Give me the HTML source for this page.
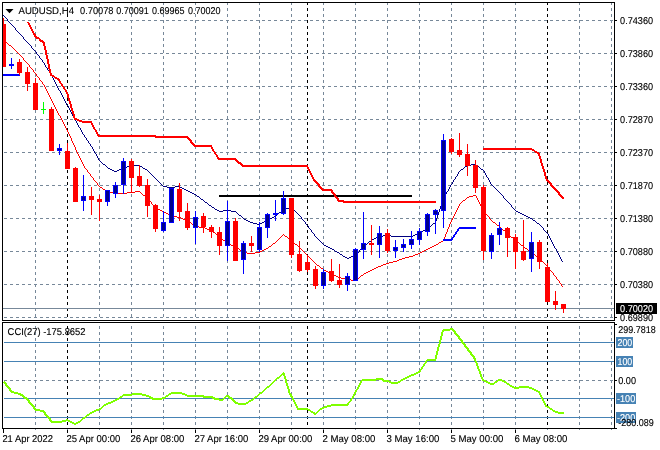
<!DOCTYPE html>
<html lang="en"><head><meta charset="utf-8"><title>AUDUSD,H4</title>
<style>html,body{margin:0;padding:0;background:#fff;overflow:hidden}svg{display:block}text{font-family:"Liberation Sans",sans-serif;font-size:9.9px;stroke-width:0.12px;text-rendering:geometricPrecision}</style>
</head><body>
<svg width="660" height="450" viewBox="0 0 660 450">
<rect width="660" height="450" fill="#fff"/>
<g stroke="#778899" stroke-width="1" stroke-dasharray="3 3" shape-rendering="crispEdges" fill="none">
<path d="M35.5 2V320M35.5 326V428"/>
<path d="M99.5 2V320M99.5 326V428"/>
<path d="M131.5 2V320M131.5 326V428"/>
<path d="M163.5 2V320M163.5 326V428"/>
<path d="M195.5 2V320M195.5 326V428"/>
<path d="M227.5 2V320M227.5 326V428"/>
<path d="M259.5 2V320M259.5 326V428"/>
<path d="M291.5 2V320M291.5 326V428"/>
<path d="M323.5 2V320M323.5 326V428"/>
<path d="M355.5 2V320M355.5 326V428"/>
<path d="M387.5 2V320M387.5 326V428"/>
<path d="M419.5 2V320M419.5 326V428"/>
<path d="M451.5 2V320M451.5 326V428"/>
<path d="M483.5 2V320M483.5 326V428"/>
<path d="M515.5 2V320M515.5 326V428"/>
<path d="M579.5 2V320M579.5 326V428"/>
<path d="M611.5 2V320M611.5 326V428"/>
<path d="M4 20.5H614"/>
<path d="M4 53.5H614"/>
<path d="M4 86.5H614"/>
<path d="M4 119.5H614"/>
<path d="M4 152.5H614"/>
<path d="M4 185.5H614"/>
<path d="M4 218.5H614"/>
<path d="M4 251.5H614"/>
<path d="M4 284.5H614"/>
<path d="M4 317.5H614"/>
<path d="M4 380.5H614"/>
</g>
<g stroke="#000" stroke-width="1" stroke-dasharray="3 3" shape-rendering="crispEdges" fill="none">
<path d="M67.5 2V320M67.5 326V428"/>
<path d="M307.5 2V320M307.5 326V428"/>
<path d="M547.5 2V320M547.5 326V428"/>
</g>
<g stroke="#4682b4" stroke-width="1" shape-rendering="crispEdges">
<path d="M4 342.5H614"/>
<path d="M4 361.5H614"/>
<path d="M4 398.5H614"/>
<path d="M4 417.5H614"/>
</g>
<path d="M3 308.5H614" stroke="#778899" stroke-width="1" shape-rendering="crispEdges"/>
<clipPath id="cm"><rect x="3" y="3" width="611" height="317"/></clipPath>
<clipPath id="cs"><rect x="3" y="323" width="611" height="105"/></clipPath>
<g clip-path="url(#cm)" shape-rendering="crispEdges">
<rect x="219" y="195" width="193" height="2" fill="#000" shape-rendering="crispEdges"/>
<path d="M3 15h1v1h-1zM4 16h1v1h-1zM5 17h1v1h-1zM6 18h1v1h-1zM7 19h1v2h-1zM8 21h1v1h-1zM9 22h1v1h-1zM10 23h1v1h-1zM11 24h1v1h-1zM12 25h1v1h-1zM13 26h1v1h-1zM14 27h1v1h-1zM15 28h1v2h-1zM16 30h1v1h-1zM17 31h1v1h-1zM18 32h1v1h-1zM19 33h1v1h-1zM20 34h1v1h-1zM21 35h1v1h-1zM22 36h1v1h-1zM23 37h1v2h-1zM24 39h1v1h-1zM25 40h1v1h-1zM26 41h1v1h-1zM27 42h1v1h-1zM28 43h1v1h-1zM29 44h1v1h-1zM30 45h1v1h-1zM31 46h1v2h-1zM32 48h1v1h-1zM33 49h1v1h-1zM34 50h1v1h-1zM35 51h1v1h-1zM36 52h1v2h-1zM37 54h1v1h-1zM38 55h1v1h-1zM39 56h1v2h-1zM40 58h1v1h-1zM41 59h1v1h-1zM42 60h1v2h-1zM43 62h1v1h-1zM44 63h1v2h-1zM45 65h1v2h-1zM46 67h1v1h-1zM47 68h1v2h-1zM48 70h1v1h-1zM49 71h1v2h-1zM50 73h1v2h-1zM51 75h1v1h-1zM52 76h1v2h-1zM53 78h1v2h-1zM54 80h1v2h-1zM55 82h1v2h-1zM56 84h1v2h-1zM57 86h1v2h-1zM58 88h1v2h-1zM59 90h1v1h-1zM60 91h1v2h-1zM61 93h1v2h-1zM62 95h1v2h-1zM63 97h1v2h-1zM64 99h1v2h-1zM65 101h1v2h-1zM66 103h1v2h-1zM67 105h1v1h-1zM68 106h1v2h-1zM69 108h1v2h-1zM70 110h1v2h-1zM71 112h1v2h-1zM72 114h1v2h-1zM73 116h1v2h-1zM74 118h1v2h-1zM75 120h1v1h-1zM76 121h1v2h-1zM77 123h1v2h-1zM78 125h1v2h-1zM79 127h1v1h-1zM80 128h1v2h-1zM81 130h1v2h-1zM82 132h1v2h-1zM83 134h1v1h-1zM84 135h1v2h-1zM85 137h1v1h-1zM86 138h1v2h-1zM87 140h1v1h-1zM88 141h1v2h-1zM89 143h1v1h-1zM90 144h1v2h-1zM91 146h1v1h-1zM92 147h1v2h-1zM93 149h1v2h-1zM94 151h1v2h-1zM95 153h1v1h-1zM96 154h1v2h-1zM97 156h1v2h-1zM98 158h1v2h-1zM99 160h1v1h-1zM100 161h1v1h-1zM101 162h1v1h-1zM102 163h1v1h-1zM103 164h2v1h-2zM105 165h1v1h-1zM106 166h1v1h-1zM107 167h1v1h-1zM108 168h2v1h-2zM110 169h2v1h-2zM112 170h2v1h-2zM114 171h3v1h-3zM117 170h2v1h-2zM119 169h3v1h-3zM122 168h3v1h-3zM125 167h2v1h-2zM127 166h3v1h-3zM130 165h10v1h-10zM140 166h2v1h-2zM142 167h1v1h-1zM143 168h2v1h-2zM145 169h2v1h-2zM147 170h1v1h-1zM148 171h1v1h-1zM149 172h1v1h-1zM150 173h1v1h-1zM151 174h1v1h-1zM152 175h1v1h-1zM153 176h1v1h-1zM154 177h1v1h-1zM155 178h1v1h-1zM156 179h1v1h-1zM157 180h1v1h-1zM158 181h1v1h-1zM159 182h1v1h-1zM160 183h1v1h-1zM161 184h1v1h-1zM162 185h1v1h-1zM163 186h4v1h-4zM167 187h8v1h-8zM175 186h5v1h-5zM180 187h2v1h-2zM182 188h2v1h-2zM184 189h2v1h-2zM186 190h2v1h-2zM188 191h2v1h-2zM190 192h2v1h-2zM192 193h2v1h-2zM194 194h2v1h-2zM196 195h1v1h-1zM197 196h2v1h-2zM199 197h1v1h-1zM200 198h1v1h-1zM201 199h2v1h-2zM203 200h1v1h-1zM204 201h1v1h-1zM205 202h2v1h-2zM207 203h1v1h-1zM208 204h1v1h-1zM209 205h2v1h-2zM211 206h1v1h-1zM212 207h2v1h-2zM214 208h1v1h-1zM215 209h2v1h-2zM217 210h2v1h-2zM219 211h4v1h-4zM223 210h8v1h-8zM231 211h5v1h-5zM236 212h1v1h-1zM237 213h1v1h-1zM238 214h1v1h-1zM239 215h2v1h-2zM241 216h1v1h-1zM242 217h1v1h-1zM243 218h1v1h-1zM244 219h2v1h-2zM246 220h2v1h-2zM248 221h2v1h-2zM250 222h3v1h-3zM253 223h4v1h-4zM257 224h3v1h-3zM260 223h2v1h-2zM262 222h2v1h-2zM264 221h2v1h-2zM266 220h2v1h-2zM268 219h2v1h-2zM270 218h2v1h-2zM272 217h2v1h-2zM274 216h2v1h-2zM276 215h1v1h-1zM277 214h1v1h-1zM278 213h1v1h-1zM279 212h2v1h-2zM281 211h1v1h-1zM282 210h1v1h-1zM283 209h2v1h-2zM285 208h4v1h-4zM289 207h3v1h-3zM292 208h1v1h-1zM293 209h1v1h-1zM294 210h1v1h-1zM295 211h1v1h-1zM296 212h1v1h-1zM297 213h1v1h-1zM298 214h1v1h-1zM299 215h1v1h-1zM300 216h1v1h-1zM301 217h1v2h-1zM302 219h1v1h-1zM303 220h1v1h-1zM304 221h1v1h-1zM305 222h1v2h-1zM306 224h1v1h-1zM307 225h1v1h-1zM308 226h1v2h-1zM309 228h1v1h-1zM310 229h1v1h-1zM311 230h1v2h-1zM312 232h1v1h-1zM313 233h1v1h-1zM314 234h1v2h-1zM315 236h1v1h-1zM316 237h1v1h-1zM317 238h1v1h-1zM318 239h1v1h-1zM319 240h1v1h-1zM320 241h1v1h-1zM321 242h1v1h-1zM322 243h1v1h-1zM323 244h1v1h-1zM324 245h2v1h-2zM326 246h2v1h-2zM328 247h2v1h-2zM330 248h2v1h-2zM332 249h2v1h-2zM334 250h1v1h-1zM335 251h2v1h-2zM337 252h2v1h-2zM339 253h1v1h-1zM340 254h2v1h-2zM342 255h1v1h-1zM343 256h2v1h-2zM345 257h2v1h-2zM347 258h2v1h-2zM349 257h2v1h-2zM351 256h3v1h-3zM354 255h2v1h-2zM356 254h1v1h-1zM357 253h1v1h-1zM358 252h1v1h-1zM359 250h1v2h-1zM360 249h1v1h-1zM361 248h1v1h-1zM362 247h1v1h-1zM363 246h1v1h-1zM364 245h1v1h-1zM365 244h2v1h-2zM367 243h1v1h-1zM368 242h1v1h-1zM369 241h2v1h-2zM371 240h1v1h-1zM372 239h2v1h-2zM374 238h2v1h-2zM376 237h2v1h-2zM378 236h5v1h-5zM383 235h8v1h-8zM391 236h22v1h-22zM413 235h2v1h-2zM415 234h3v1h-3zM418 233h2v1h-2zM420 232h2v1h-2zM422 231h1v1h-1zM423 230h2v1h-2zM425 229h2v1h-2zM427 228h1v1h-1zM428 227h1v1h-1zM429 226h2v1h-2zM431 225h1v1h-1zM432 224h1v1h-1zM433 223h2v1h-2zM435 221h1v2h-1zM436 218h1v3h-1zM437 215h1v3h-1zM438 212h1v3h-1zM439 209h1v3h-1zM440 206h1v3h-1zM441 203h1v3h-1zM442 200h1v3h-1zM443 198h1v2h-1zM444 196h1v2h-1zM445 194h1v2h-1zM446 192h1v2h-1zM447 191h1v1h-1zM448 189h1v2h-1zM449 187h1v2h-1zM450 185h1v2h-1zM451 184h1v1h-1zM452 182h1v2h-1zM453 180h1v2h-1zM454 179h1v1h-1zM455 177h1v2h-1zM456 176h1v1h-1zM457 174h1v2h-1zM458 172h1v2h-1zM459 171h1v1h-1zM460 170h1v1h-1zM461 169h2v1h-2zM463 168h1v1h-1zM464 167h1v1h-1zM465 166h2v1h-2zM467 165h4v1h-4zM471 164h5v1h-5zM476 165h1v1h-1zM477 166h2v1h-2zM479 167h1v1h-1zM480 168h1v1h-1zM481 169h2v1h-2zM483 170h1v1h-1zM484 171h1v2h-1zM485 173h1v2h-1zM486 175h1v2h-1zM487 177h1v1h-1zM488 178h1v2h-1zM489 180h1v2h-1zM490 182h1v2h-1zM491 184h1v1h-1zM492 185h1v1h-1zM493 186h1v1h-1zM494 187h1v1h-1zM495 188h1v1h-1zM496 189h1v1h-1zM497 190h1v1h-1zM498 191h1v1h-1zM499 192h1v1h-1zM500 193h1v1h-1zM501 194h1v1h-1zM502 195h1v1h-1zM503 196h1v2h-1zM504 198h1v1h-1zM505 199h1v1h-1zM506 200h1v1h-1zM507 201h1v1h-1zM508 202h1v1h-1zM509 203h1v1h-1zM510 204h1v1h-1zM511 205h1v2h-1zM512 207h1v1h-1zM513 208h1v1h-1zM514 209h1v1h-1zM515 210h1v1h-1zM516 211h2v1h-2zM518 212h2v1h-2zM520 213h2v1h-2zM522 214h2v1h-2zM524 215h2v1h-2zM526 216h2v1h-2zM528 217h2v1h-2zM530 218h2v1h-2zM532 219h1v1h-1zM533 220h2v1h-2zM535 221h1v1h-1zM536 222h1v1h-1zM537 223h2v1h-2zM539 224h1v1h-1zM540 225h1v1h-1zM541 226h1v1h-1zM542 227h1v1h-1zM543 228h1v2h-1zM544 230h1v1h-1zM545 231h1v1h-1zM546 232h1v1h-1zM547 233h1v1h-1zM548 234h1v2h-1zM549 236h1v2h-1zM550 238h1v2h-1zM551 240h1v2h-1zM552 242h1v2h-1zM553 244h1v2h-1zM554 246h1v2h-1zM555 248h1v1h-1zM556 249h1v2h-1zM557 251h1v2h-1zM558 253h1v2h-1zM559 255h1v2h-1zM560 257h1v2h-1zM561 259h1v2h-1zM562 261h1v1h-1z" fill="#000080"/>
<path d="M3 40h1v1h-1zM4 41h1v1h-1zM5 42h2v1h-2zM7 43h1v1h-1zM8 44h1v1h-1zM9 45h2v1h-2zM11 46h1v1h-1zM12 47h1v1h-1zM13 48h1v1h-1zM14 49h1v1h-1zM15 50h1v1h-1zM16 51h1v1h-1zM17 52h1v1h-1zM18 53h1v1h-1zM19 54h1v1h-1zM20 55h1v1h-1zM21 56h1v1h-1zM22 57h1v1h-1zM23 58h1v2h-1zM24 60h1v1h-1zM25 61h1v1h-1zM26 62h1v1h-1zM27 63h1v1h-1zM28 64h1v1h-1zM29 65h1v2h-1zM30 67h1v1h-1zM31 68h1v1h-1zM32 69h1v1h-1zM33 70h1v2h-1zM34 72h1v1h-1zM35 73h1v1h-1zM36 74h1v2h-1zM37 76h1v1h-1zM38 77h1v1h-1zM39 78h1v2h-1zM40 80h1v1h-1zM41 81h1v1h-1zM42 82h1v2h-1zM43 84h1v1h-1zM44 85h1v2h-1zM45 87h1v2h-1zM46 89h1v2h-1zM47 91h1v2h-1zM48 93h1v2h-1zM49 95h1v2h-1zM50 97h1v2h-1zM51 99h1v2h-1zM52 101h1v2h-1zM53 103h1v2h-1zM54 105h1v2h-1zM55 107h1v2h-1zM56 109h1v2h-1zM57 111h1v2h-1zM58 113h1v2h-1zM59 115h1v1h-1zM60 116h1v2h-1zM61 118h1v2h-1zM62 120h1v2h-1zM63 122h1v2h-1zM64 124h1v2h-1zM65 126h1v2h-1zM66 128h1v2h-1zM67 130h1v2h-1zM68 132h1v2h-1zM69 134h1v2h-1zM70 136h1v2h-1zM71 138h1v3h-1zM72 141h1v2h-1zM73 143h1v2h-1zM74 145h1v2h-1zM75 147h1v3h-1zM76 150h1v2h-1zM77 152h1v2h-1zM78 154h1v2h-1zM79 156h1v2h-1zM80 158h1v2h-1zM81 160h1v2h-1zM82 162h1v2h-1zM83 164h1v2h-1zM84 166h1v2h-1zM85 168h1v1h-1zM86 169h1v1h-1zM87 170h1v2h-1zM88 172h1v1h-1zM89 173h1v1h-1zM90 174h1v2h-1zM91 176h1v1h-1zM92 177h1v1h-1zM93 178h1v2h-1zM94 180h1v1h-1zM95 181h1v1h-1zM96 182h1v1h-1zM97 183h1v2h-1zM98 185h1v1h-1zM99 186h1v1h-1zM100 187h2v1h-2zM102 188h1v1h-1zM103 189h2v1h-2zM105 190h2v1h-2zM107 191h2v1h-2zM109 192h4v1h-4zM113 193h14v1h-14zM127 192h8v1h-8zM135 191h5v1h-5zM140 192h1v1h-1zM141 193h1v1h-1zM142 194h1v1h-1zM143 195h2v1h-2zM145 196h1v1h-1zM146 197h1v1h-1zM147 198h1v1h-1zM148 199h1v1h-1zM149 200h1v1h-1zM150 201h1v1h-1zM151 202h1v2h-1zM152 204h1v1h-1zM153 205h1v1h-1zM154 206h1v1h-1zM155 207h1v1h-1zM156 208h2v1h-2zM158 209h2v1h-2zM160 210h2v1h-2zM162 211h2v1h-2zM164 212h2v1h-2zM166 213h2v1h-2zM168 214h2v1h-2zM170 215h3v1h-3zM173 216h4v1h-4zM177 217h4v1h-4zM181 218h2v1h-2zM183 219h3v1h-3zM186 220h2v1h-2zM188 221h1v1h-1zM189 222h2v1h-2zM191 223h1v1h-1zM192 224h1v1h-1zM193 225h2v1h-2zM195 226h4v1h-4zM199 227h6v1h-6zM205 228h2v1h-2zM207 229h3v1h-3zM210 230h2v1h-2zM212 231h1v1h-1zM213 232h2v1h-2zM215 233h1v1h-1zM216 234h1v1h-1zM217 235h2v1h-2zM219 236h1v1h-1zM220 237h1v1h-1zM221 238h1v1h-1zM222 239h1v1h-1zM223 240h2v1h-2zM225 241h1v1h-1zM226 242h1v1h-1zM227 243h2v1h-2zM229 244h2v1h-2zM231 245h3v1h-3zM234 246h2v1h-2zM236 247h1v1h-1zM237 248h2v1h-2zM239 249h1v1h-1zM240 250h1v1h-1zM241 251h2v1h-2zM243 252h4v1h-4zM247 253h8v1h-8zM255 252h5v1h-5zM260 251h2v1h-2zM262 250h2v1h-2zM264 249h2v1h-2zM266 248h2v1h-2zM268 247h1v1h-1zM269 246h2v1h-2zM271 245h1v1h-1zM272 244h1v1h-1zM273 243h2v1h-2zM275 242h1v1h-1zM276 241h1v1h-1zM277 240h1v1h-1zM278 239h1v1h-1zM279 238h1v1h-1zM280 237h1v1h-1zM281 236h1v1h-1zM282 235h1v1h-1zM283 234h1v1h-1zM284 235h1v1h-1zM285 236h2v1h-2zM287 237h1v1h-1zM288 238h1v1h-1zM289 239h2v1h-2zM291 240h1v1h-1zM292 241h1v1h-1zM293 242h1v1h-1zM294 243h1v1h-1zM295 244h2v1h-2zM297 245h1v1h-1zM298 246h1v1h-1zM299 247h1v1h-1zM300 248h1v1h-1zM301 249h1v1h-1zM302 250h1v1h-1zM303 251h1v1h-1zM304 252h1v1h-1zM305 253h1v1h-1zM306 254h1v1h-1zM307 255h1v1h-1zM308 256h1v1h-1zM309 257h1v1h-1zM310 258h1v1h-1zM311 259h1v1h-1zM312 260h1v1h-1zM313 261h1v1h-1zM314 262h1v1h-1zM315 263h1v1h-1zM316 264h1v1h-1zM317 265h2v1h-2zM319 266h1v1h-1zM320 267h1v1h-1zM321 268h2v1h-2zM323 269h1v1h-1zM324 270h2v1h-2zM326 271h2v1h-2zM328 272h2v1h-2zM330 273h2v1h-2zM332 274h2v1h-2zM334 275h2v1h-2zM336 276h2v1h-2zM338 277h3v1h-3zM341 278h4v1h-4zM345 279h6v1h-6zM351 280h5v1h-5zM356 279h1v1h-1zM357 278h2v1h-2zM359 277h1v1h-1zM360 276h1v1h-1zM361 275h2v1h-2zM363 274h1v1h-1zM364 273h2v1h-2zM366 272h2v1h-2zM368 271h2v1h-2zM370 270h2v1h-2zM372 269h2v1h-2zM374 268h2v1h-2zM376 267h2v1h-2zM378 266h3v1h-3zM381 265h2v1h-2zM383 264h3v1h-3zM386 263h3v1h-3zM389 262h4v1h-4zM393 261h4v1h-4zM397 260h2v1h-2zM399 259h3v1h-3zM402 258h3v1h-3zM405 257h4v1h-4zM409 256h4v1h-4zM413 255h2v1h-2zM415 254h3v1h-3zM418 253h2v1h-2zM420 252h2v1h-2zM422 251h2v1h-2zM424 250h2v1h-2zM426 249h2v1h-2zM428 248h2v1h-2zM430 247h2v1h-2zM432 246h2v1h-2zM434 245h2v1h-2zM436 244h2v1h-2zM438 243h1v1h-1zM439 242h2v1h-2zM441 241h2v1h-2zM443 239h1v2h-1zM444 237h1v2h-1zM445 234h1v3h-1zM446 232h1v2h-1zM447 229h1v3h-1zM448 227h1v2h-1zM449 224h1v3h-1zM450 222h1v2h-1zM451 220h1v2h-1zM452 218h1v2h-1zM453 216h1v2h-1zM454 214h1v2h-1zM455 212h1v2h-1zM456 210h1v2h-1zM457 208h1v2h-1zM458 206h1v2h-1zM459 204h1v2h-1zM460 203h1v1h-1zM461 202h1v1h-1zM462 201h1v1h-1zM463 200h2v1h-2zM465 199h1v1h-1zM466 198h1v1h-1zM467 197h2v1h-2zM469 196h4v1h-4zM473 195h3v1h-3zM476 196h1v2h-1zM477 198h1v2h-1zM478 200h1v2h-1zM479 202h1v2h-1zM480 204h1v2h-1zM481 206h1v2h-1zM482 208h1v2h-1zM483 210h1v1h-1zM484 211h1v1h-1zM485 212h1v2h-1zM486 214h1v1h-1zM487 215h1v1h-1zM488 216h1v1h-1zM489 217h1v2h-1zM490 219h1v1h-1zM491 220h1v1h-1zM492 221h1v1h-1zM493 222h2v1h-2zM495 223h1v1h-1zM496 224h1v1h-1zM497 225h2v1h-2zM499 226h1v1h-1zM500 227h1v1h-1zM501 228h1v1h-1zM502 229h1v1h-1zM503 230h2v1h-2zM505 231h1v1h-1zM506 232h1v1h-1zM507 233h1v1h-1zM508 234h1v1h-1zM509 235h1v1h-1zM510 236h1v1h-1zM511 237h2v1h-2zM513 238h1v1h-1zM514 239h1v1h-1zM515 240h1v1h-1zM516 241h1v1h-1zM517 242h2v1h-2zM519 243h1v1h-1zM520 244h1v1h-1zM521 245h2v1h-2zM523 246h1v1h-1zM524 247h1v1h-1zM525 248h2v1h-2zM527 249h1v1h-1zM528 250h1v1h-1zM529 251h2v1h-2zM531 252h1v1h-1zM532 253h1v1h-1zM533 254h2v1h-2zM535 255h1v1h-1zM536 256h1v1h-1zM537 257h2v1h-2zM539 258h1v1h-1zM540 259h1v1h-1zM541 260h1v1h-1zM542 261h1v1h-1zM543 262h1v1h-1zM544 263h1v1h-1zM545 264h1v1h-1zM546 265h1v1h-1zM547 266h1v1h-1zM548 267h1v1h-1zM549 268h1v2h-1zM550 270h1v1h-1zM551 271h1v1h-1zM552 272h1v1h-1zM553 273h1v2h-1zM554 275h1v1h-1zM555 276h1v1h-1zM556 277h1v2h-1zM557 279h1v1h-1zM558 280h1v1h-1zM559 281h1v2h-1zM560 283h1v1h-1zM561 284h1v2h-1zM562 286h1v1h-1z" fill="#ff0000"/>
<path d="M27 22h2v1h-2zM28 23h2v2h-2zM29 25h2v2h-2zM30 27h2v2h-2zM31 29h2v2h-2zM32 31h2v2h-2zM33 33h2v1h-2zM33 34h3v1h-3zM34 35h2v1h-2zM34 36h3v1h-3zM35 37h4v1h-4zM36 38h4v1h-4zM39 39h2v1h-2zM39 40h4v1h-4zM40 41h4v1h-4zM42 42h3v1h-3zM43 43h2v3h-2zM44 46h2v4h-2zM45 50h2v5h-2zM46 55h2v4h-2zM47 59h2v5h-2zM48 64h2v5h-2zM49 69h2v4h-2zM50 73h2v2h-2zM50 75h4v1h-4zM52 76h3v1h-3zM54 77h3v1h-3zM55 78h4v1h-4zM57 79h3v1h-3zM58 80h2v1h-2zM59 81h2v2h-2zM60 83h2v1h-2zM61 84h2v2h-2zM62 86h2v1h-2zM63 87h2v2h-2zM64 89h2v1h-2zM65 90h2v2h-2zM66 92h2v2h-2zM67 94h2v4h-2zM68 98h2v3h-2zM69 101h2v3h-2zM70 104h2v4h-2zM71 108h2v3h-2zM72 111h2v3h-2zM73 114h2v4h-2zM74 118h3v1h-3zM74 119h5v1h-5zM77 120h5v1h-5zM79 121h13v1h-13zM82 122h10v1h-10zM91 123h2v2h-2zM92 125h2v2h-2zM93 127h2v2h-2zM94 129h2v1h-2zM95 130h2v2h-2zM96 132h2v2h-2zM97 134h2v1h-2zM97 135h59v1h-59zM98 136h90v1h-90zM155 137h34v1h-34zM187 138h3v1h-3zM188 139h3v1h-3zM189 140h3v1h-3zM190 141h2v1h-2zM190 142h3v1h-3zM191 143h3v1h-3zM192 144h3v1h-3zM193 145h19v1h-19zM194 146h18v1h-18zM211 147h2v2h-2zM212 149h2v2h-2zM213 151h2v1h-2zM214 152h2v2h-2zM215 154h2v1h-2zM216 155h2v2h-2zM217 157h2v1h-2zM217 158h19v1h-19zM218 159h19v1h-19zM235 160h3v1h-3zM236 161h3v1h-3zM237 162h4v1h-4zM238 163h4v1h-4zM240 164h3v1h-3zM241 165h67v1h-67zM242 166h66v1h-66zM307 167h2v2h-2zM308 169h2v2h-2zM309 171h2v2h-2zM310 173h2v2h-2zM311 175h2v2h-2zM312 177h2v2h-2zM313 179h2v1h-2zM313 180h3v1h-3zM314 181h3v1h-3zM315 182h3v1h-3zM316 183h3v1h-3zM317 184h3v1h-3zM318 185h2v1h-2zM318 186h3v1h-3zM319 187h3v1h-3zM320 188h3v1h-3zM321 189h11v1h-11zM322 190h11v1h-11zM331 191h2v1h-2zM331 192h3v1h-3zM332 193h3v1h-3zM333 194h3v1h-3zM334 195h2v1h-2zM334 196h3v1h-3zM335 197h3v1h-3zM336 198h3v1h-3zM337 199h2v1h-2zM337 200h7v1h-7zM338 201h98v1h-98zM343 202h93v1h-93z" fill="#ff0000"/>
<path d="M483 148h49v1h-49zM483 149h51v1h-51zM532 150h3v1h-3zM534 151h3v1h-3zM535 152h4v1h-4zM537 153h3v1h-3zM538 154h2v2h-2zM539 156h2v3h-2zM540 159h2v4h-2zM541 163h2v3h-2zM542 166h2v3h-2zM543 169h2v3h-2zM544 172h2v4h-2zM545 176h2v3h-2zM546 179h2v1h-2zM546 180h3v1h-3zM547 181h3v1h-3zM548 182h3v1h-3zM549 183h3v1h-3zM550 184h2v1h-2zM550 185h3v1h-3zM551 186h3v1h-3zM552 187h3v1h-3zM553 188h3v1h-3zM554 189h3v1h-3zM555 190h3v1h-3zM556 191h3v1h-3zM557 192h3v1h-3zM558 193h2v1h-2zM558 194h3v1h-3zM559 195h3v1h-3zM560 196h3v1h-3zM561 197h3v1h-3zM562 198h2v1h-2z" fill="#ff0000"/>
<path d="M3 74h17v2h-17z" fill="#0000ff"/>
<path d="M443 240h9v1h-9zM443 239h10v1h-10zM451 238h2v1h-2zM452 237h2v1h-2zM453 235h2v2h-2zM454 234h2v1h-2zM455 232h2v2h-2zM456 231h2v1h-2zM457 229h2v2h-2zM458 228h18v1h-18zM459 227h17v1h-17z" fill="#0000ff"/>
<g shape-rendering="crispEdges">
<rect x="3" y="18" width="1" height="49" fill="#ff0000"/>
<rect x="1" y="24" width="5" height="43" fill="#ff0000"/>
<rect x="11" y="58" width="1" height="11" fill="#0000ff"/>
<rect x="9" y="64" width="5" height="2" fill="#0000ff"/>
<rect x="19" y="59" width="1" height="16" fill="#ff0000"/>
<rect x="17" y="62" width="5" height="11" fill="#ff0000"/>
<rect x="27" y="67" width="1" height="24" fill="#ff0000"/>
<rect x="25" y="72" width="5" height="12" fill="#ff0000"/>
<rect x="35" y="78" width="1" height="32" fill="#ff0000"/>
<rect x="33" y="83" width="5" height="27" fill="#ff0000"/>
<rect x="43" y="102" width="1" height="12" fill="#00ff00"/>
<rect x="41" y="109" width="5" height="1" fill="#00ff00"/>
<rect x="51" y="107" width="1" height="44" fill="#ff0000"/>
<rect x="49" y="109" width="5" height="42" fill="#ff0000"/>
<rect x="59" y="144" width="1" height="11" fill="#0000ff"/>
<rect x="57" y="148" width="5" height="3" fill="#0000ff"/>
<rect x="58" y="149" width="3" height="1" fill="#00008b"/>
<rect x="67" y="143" width="1" height="26" fill="#ff0000"/>
<rect x="65" y="151" width="5" height="18" fill="#ff0000"/>
<rect x="75" y="167" width="1" height="35" fill="#ff0000"/>
<rect x="73" y="168" width="5" height="34" fill="#ff0000"/>
<rect x="83" y="175" width="1" height="36" fill="#0000ff"/>
<rect x="81" y="196" width="5" height="5" fill="#0000ff"/>
<rect x="82" y="197" width="3" height="3" fill="#00008b"/>
<rect x="91" y="187" width="1" height="28" fill="#ff0000"/>
<rect x="89" y="196" width="5" height="4" fill="#ff0000"/>
<rect x="99" y="195" width="1" height="26" fill="#ff0000"/>
<rect x="97" y="199" width="5" height="3" fill="#ff0000"/>
<rect x="107" y="190" width="1" height="16" fill="#0000ff"/>
<rect x="105" y="190" width="5" height="12" fill="#0000ff"/>
<rect x="106" y="191" width="3" height="10" fill="#00008b"/>
<rect x="115" y="182" width="1" height="16" fill="#0000ff"/>
<rect x="113" y="185" width="5" height="9" fill="#0000ff"/>
<rect x="114" y="186" width="3" height="7" fill="#00008b"/>
<rect x="123" y="158" width="1" height="36" fill="#0000ff"/>
<rect x="121" y="161" width="5" height="24" fill="#0000ff"/>
<rect x="122" y="162" width="3" height="22" fill="#00008b"/>
<rect x="131" y="159" width="1" height="33" fill="#ff0000"/>
<rect x="129" y="161" width="5" height="17" fill="#ff0000"/>
<rect x="139" y="165" width="1" height="22" fill="#ff0000"/>
<rect x="137" y="176" width="5" height="10" fill="#ff0000"/>
<rect x="147" y="179" width="1" height="38" fill="#ff0000"/>
<rect x="145" y="185" width="5" height="21" fill="#ff0000"/>
<rect x="155" y="204" width="1" height="28" fill="#ff0000"/>
<rect x="153" y="205" width="5" height="24" fill="#ff0000"/>
<rect x="163" y="211" width="1" height="21" fill="#0000ff"/>
<rect x="161" y="222" width="5" height="9" fill="#0000ff"/>
<rect x="162" y="223" width="3" height="7" fill="#00008b"/>
<rect x="171" y="188" width="1" height="35" fill="#0000ff"/>
<rect x="169" y="188" width="5" height="35" fill="#0000ff"/>
<rect x="170" y="189" width="3" height="33" fill="#00008b"/>
<rect x="179" y="183" width="1" height="38" fill="#ff0000"/>
<rect x="177" y="189" width="5" height="23" fill="#ff0000"/>
<rect x="187" y="203" width="1" height="27" fill="#ff0000"/>
<rect x="185" y="211" width="5" height="17" fill="#ff0000"/>
<rect x="195" y="211" width="1" height="33" fill="#0000ff"/>
<rect x="193" y="217" width="5" height="11" fill="#0000ff"/>
<rect x="194" y="218" width="3" height="9" fill="#00008b"/>
<rect x="203" y="213" width="1" height="20" fill="#ff0000"/>
<rect x="201" y="216" width="5" height="11" fill="#ff0000"/>
<rect x="211" y="225" width="1" height="13" fill="#ff0000"/>
<rect x="209" y="227" width="5" height="5" fill="#ff0000"/>
<rect x="219" y="227" width="1" height="28" fill="#ff0000"/>
<rect x="217" y="232" width="5" height="14" fill="#ff0000"/>
<rect x="227" y="201" width="1" height="60" fill="#0000ff"/>
<rect x="225" y="221" width="5" height="25" fill="#0000ff"/>
<rect x="226" y="222" width="3" height="23" fill="#00008b"/>
<rect x="235" y="218" width="1" height="43" fill="#ff0000"/>
<rect x="233" y="221" width="5" height="40" fill="#ff0000"/>
<rect x="243" y="241" width="1" height="33" fill="#0000ff"/>
<rect x="241" y="243" width="5" height="17" fill="#0000ff"/>
<rect x="242" y="244" width="3" height="15" fill="#00008b"/>
<rect x="251" y="236" width="1" height="16" fill="#ff0000"/>
<rect x="249" y="243" width="5" height="3" fill="#ff0000"/>
<rect x="259" y="222" width="1" height="30" fill="#0000ff"/>
<rect x="257" y="227" width="5" height="23" fill="#0000ff"/>
<rect x="258" y="228" width="3" height="21" fill="#00008b"/>
<rect x="267" y="213" width="1" height="25" fill="#0000ff"/>
<rect x="265" y="214" width="5" height="14" fill="#0000ff"/>
<rect x="266" y="215" width="3" height="12" fill="#00008b"/>
<rect x="275" y="200" width="1" height="21" fill="#0000ff"/>
<rect x="273" y="213" width="5" height="2" fill="#0000ff"/>
<rect x="283" y="191" width="1" height="24" fill="#0000ff"/>
<rect x="281" y="198" width="5" height="16" fill="#0000ff"/>
<rect x="282" y="199" width="3" height="14" fill="#00008b"/>
<rect x="291" y="198" width="1" height="60" fill="#ff0000"/>
<rect x="289" y="198" width="5" height="57" fill="#ff0000"/>
<rect x="299" y="241" width="1" height="31" fill="#ff0000"/>
<rect x="297" y="254" width="5" height="17" fill="#ff0000"/>
<rect x="307" y="255" width="1" height="17" fill="#ff0000"/>
<rect x="305" y="262" width="5" height="8" fill="#ff0000"/>
<rect x="315" y="266" width="1" height="23" fill="#ff0000"/>
<rect x="313" y="269" width="5" height="17" fill="#ff0000"/>
<rect x="323" y="269" width="1" height="20" fill="#0000ff"/>
<rect x="321" y="272" width="5" height="14" fill="#0000ff"/>
<rect x="322" y="273" width="3" height="12" fill="#00008b"/>
<rect x="331" y="259" width="1" height="23" fill="#ff0000"/>
<rect x="329" y="271" width="5" height="10" fill="#ff0000"/>
<rect x="339" y="264" width="1" height="24" fill="#ff0000"/>
<rect x="337" y="280" width="5" height="5" fill="#ff0000"/>
<rect x="347" y="273" width="1" height="18" fill="#0000ff"/>
<rect x="345" y="276" width="5" height="9" fill="#0000ff"/>
<rect x="346" y="277" width="3" height="7" fill="#00008b"/>
<rect x="355" y="248" width="1" height="33" fill="#0000ff"/>
<rect x="353" y="249" width="5" height="32" fill="#0000ff"/>
<rect x="354" y="250" width="3" height="30" fill="#00008b"/>
<rect x="363" y="212" width="1" height="47" fill="#0000ff"/>
<rect x="361" y="243" width="5" height="7" fill="#0000ff"/>
<rect x="362" y="244" width="3" height="5" fill="#00008b"/>
<rect x="371" y="225" width="1" height="30" fill="#ff0000"/>
<rect x="369" y="243" width="5" height="2" fill="#ff0000"/>
<rect x="379" y="226" width="1" height="32" fill="#0000ff"/>
<rect x="377" y="233" width="5" height="12" fill="#0000ff"/>
<rect x="378" y="234" width="3" height="10" fill="#00008b"/>
<rect x="387" y="229" width="1" height="24" fill="#ff0000"/>
<rect x="385" y="233" width="5" height="18" fill="#ff0000"/>
<rect x="395" y="240" width="1" height="18" fill="#0000ff"/>
<rect x="393" y="247" width="5" height="4" fill="#0000ff"/>
<rect x="394" y="248" width="3" height="2" fill="#00008b"/>
<rect x="403" y="239" width="1" height="13" fill="#0000ff"/>
<rect x="401" y="244" width="5" height="4" fill="#0000ff"/>
<rect x="402" y="245" width="3" height="2" fill="#00008b"/>
<rect x="411" y="231" width="1" height="18" fill="#0000ff"/>
<rect x="409" y="239" width="5" height="6" fill="#0000ff"/>
<rect x="410" y="240" width="3" height="4" fill="#00008b"/>
<rect x="419" y="228" width="1" height="17" fill="#0000ff"/>
<rect x="417" y="231" width="5" height="9" fill="#0000ff"/>
<rect x="418" y="232" width="3" height="7" fill="#00008b"/>
<rect x="427" y="213" width="1" height="23" fill="#0000ff"/>
<rect x="425" y="214" width="5" height="18" fill="#0000ff"/>
<rect x="426" y="215" width="3" height="16" fill="#00008b"/>
<rect x="435" y="209" width="1" height="25" fill="#0000ff"/>
<rect x="433" y="210" width="5" height="5" fill="#0000ff"/>
<rect x="434" y="211" width="3" height="3" fill="#00008b"/>
<rect x="443" y="134" width="1" height="94" fill="#0000ff"/>
<rect x="441" y="140" width="5" height="71" fill="#0000ff"/>
<rect x="442" y="141" width="3" height="69" fill="#00008b"/>
<rect x="451" y="138" width="1" height="16" fill="#ff0000"/>
<rect x="449" y="139" width="5" height="13" fill="#ff0000"/>
<rect x="459" y="133" width="1" height="24" fill="#ff0000"/>
<rect x="457" y="150" width="5" height="5" fill="#ff0000"/>
<rect x="467" y="144" width="1" height="32" fill="#ff0000"/>
<rect x="465" y="154" width="5" height="12" fill="#ff0000"/>
<rect x="475" y="160" width="1" height="33" fill="#ff0000"/>
<rect x="473" y="165" width="5" height="23" fill="#ff0000"/>
<rect x="483" y="185" width="1" height="75" fill="#ff0000"/>
<rect x="481" y="187" width="5" height="64" fill="#ff0000"/>
<rect x="491" y="233" width="1" height="26" fill="#0000ff"/>
<rect x="489" y="235" width="5" height="17" fill="#0000ff"/>
<rect x="490" y="236" width="3" height="15" fill="#00008b"/>
<rect x="499" y="222" width="1" height="23" fill="#0000ff"/>
<rect x="497" y="228" width="5" height="7" fill="#0000ff"/>
<rect x="498" y="229" width="3" height="5" fill="#00008b"/>
<rect x="507" y="227" width="1" height="30" fill="#ff0000"/>
<rect x="505" y="228" width="5" height="10" fill="#ff0000"/>
<rect x="515" y="234" width="1" height="35" fill="#ff0000"/>
<rect x="513" y="237" width="5" height="15" fill="#ff0000"/>
<rect x="523" y="220" width="1" height="41" fill="#ff0000"/>
<rect x="521" y="251" width="5" height="9" fill="#ff0000"/>
<rect x="531" y="232" width="1" height="40" fill="#0000ff"/>
<rect x="529" y="242" width="5" height="17" fill="#0000ff"/>
<rect x="530" y="243" width="3" height="15" fill="#00008b"/>
<rect x="539" y="240" width="1" height="29" fill="#ff0000"/>
<rect x="537" y="242" width="5" height="20" fill="#ff0000"/>
<rect x="547" y="263" width="1" height="39" fill="#ff0000"/>
<rect x="545" y="267" width="5" height="35" fill="#ff0000"/>
<rect x="555" y="291" width="1" height="19" fill="#ff0000"/>
<rect x="553" y="301" width="5" height="4" fill="#ff0000"/>
<rect x="563" y="304" width="1" height="9" fill="#ff0000"/>
<rect x="561" y="304" width="5" height="5" fill="#ff0000"/>
</g>
</g>
<g clip-path="url(#cs)" shape-rendering="crispEdges"><path d="M3 382h3v1h-3zM4 381h1v1h-1zM4 383h3v1h-3zM5 384h2v1h-2zM5 385h3v1h-3zM6 386h3v1h-3zM7 387h3v1h-3zM8 388h3v1h-3zM9 389h2v1h-2zM9 390h3v1h-3zM10 391h4v1h-4zM11 392h7v1h-7zM14 393h7v1h-7zM18 394h5v1h-5zM20 395h4v1h-4zM22 396h3v1h-3zM23 397h4v1h-4zM24 398h4v1h-4zM26 399h3v1h-3zM27 400h3v1h-3zM28 401h2v1h-2zM28 402h3v1h-3zM29 403h3v1h-3zM30 404h3v1h-3zM31 405h3v1h-3zM32 406h3v1h-3zM33 407h2v1h-2zM33 408h3v1h-3zM34 409h6v1h-6zM35 410h9v1h-9zM40 411h5v1h-5zM43 412h3v1h-3zM44 413h2v1h-2zM44 414h3v1h-3zM45 415h3v1h-3zM46 416h3v1h-3zM47 417h3v1h-3zM48 418h3v1h-3zM49 419h2v1h-2zM49 420h3v1h-3zM50 421h16v1h-16zM51 422h11v1h-11zM62 420h8v1h-8zM66 419h2v1h-2zM68 421h4v1h-4zM70 422h4v1h-4zM72 423h6v1h-6zM74 424h2v1h-2zM76 422h4v1h-4zM78 421h3v1h-3zM80 420h2v1h-2zM81 419h2v1h-2zM82 418h3v1h-3zM83 417h3v1h-3zM85 416h2v1h-2zM86 415h3v1h-3zM87 414h3v1h-3zM89 413h3v1h-3zM90 412h4v1h-4zM92 411h4v1h-4zM94 410h5v1h-5zM96 409h5v1h-5zM99 408h3v1h-3zM101 407h2v1h-2zM102 406h2v1h-2zM103 405h3v1h-3zM104 404h4v1h-4zM106 403h5v1h-5zM108 402h5v1h-5zM111 401h4v1h-4zM113 400h4v1h-4zM115 399h4v1h-4zM117 398h3v1h-3zM119 397h3v1h-3zM120 396h3v1h-3zM122 395h10v1h-10zM123 394h23v1h-23zM132 393h10v1h-10zM142 395h7v1h-7zM146 396h5v1h-5zM149 397h4v1h-4zM150 398h15v1h-15zM152 399h10v1h-10zM162 397h4v1h-4zM165 396h3v1h-3zM166 395h3v1h-3zM168 394h3v1h-3zM169 393h16v1h-16zM171 392h11v1h-11zM182 394h5v1h-5zM185 395h19v1h-19zM187 396h26v1h-26zM203 397h12v1h-12zM212 398h7v1h-7zM214 399h10v1h-10zM219 400h4v1h-4zM223 398h2v1h-2zM224 397h2v1h-2zM225 396h5v1h-5zM226 395h3v1h-3zM228 397h4v1h-4zM229 398h4v1h-4zM231 399h3v1h-3zM232 400h3v1h-3zM233 401h3v1h-3zM234 402h4v1h-4zM235 403h13v1h-13zM238 404h8v1h-8zM246 402h3v1h-3zM248 401h3v1h-3zM249 400h4v1h-4zM251 399h3v1h-3zM253 398h2v1h-2zM254 397h3v1h-3zM255 396h3v1h-3zM257 395h2v1h-2zM258 394h2v1h-2zM259 393h3v1h-3zM260 392h3v1h-3zM262 391h2v1h-2zM263 390h2v1h-2zM264 389h2v1h-2zM265 388h2v1h-2zM266 387h3v1h-3zM267 386h3v1h-3zM269 385h2v1h-2zM270 384h2v1h-2zM271 383h2v1h-2zM272 382h2v1h-2zM273 381h2v1h-2zM274 380h2v1h-2zM275 379h2v1h-2zM276 378h3v1h-3zM277 377h3v1h-3zM279 376h2v1h-2zM280 375h2v1h-2zM281 374h4v1h-4zM282 373h3v1h-3zM283 372h1v1h-1zM283 375h2v1h-2zM284 376h2v3h-2zM285 379h2v4h-2zM286 383h2v3h-2zM287 386h2v3h-2zM288 389h2v4h-2zM289 393h2v1h-2zM289 394h3v1h-3zM290 395h2v1h-2zM290 396h3v1h-3zM291 397h2v1h-2zM292 398h2v2h-2zM293 400h2v2h-2zM294 402h2v2h-2zM295 404h2v2h-2zM296 406h2v2h-2zM297 408h11v1h-11zM297 409h13v1h-13zM308 410h3v1h-3zM310 411h3v1h-3zM311 412h4v1h-4zM313 413h4v1h-4zM314 414h2v1h-2zM316 412h2v1h-2zM317 411h2v1h-2zM318 410h2v1h-2zM319 409h3v1h-3zM320 408h4v1h-4zM322 407h5v1h-5zM324 406h7v1h-7zM327 405h21v1h-21zM331 404h18v1h-18zM347 403h2v1h-2zM348 402h2v1h-2zM349 401h2v1h-2zM350 399h2v2h-2zM351 398h2v1h-2zM352 396h2v2h-2zM353 394h2v2h-2zM354 392h2v2h-2zM355 390h2v2h-2zM356 389h2v1h-2zM357 387h2v2h-2zM358 385h2v2h-2zM359 383h2v2h-2zM360 381h2v2h-2zM361 380h15v1h-15zM362 379h22v1h-22zM376 378h7v1h-7zM382 380h7v1h-7zM383 381h8v1h-8zM389 382h11v1h-11zM391 383h7v1h-7zM398 381h3v1h-3zM400 380h3v1h-3zM401 379h4v1h-4zM403 378h4v1h-4zM405 377h4v1h-4zM407 376h4v1h-4zM409 375h5v1h-5zM411 374h5v1h-5zM414 373h4v1h-4zM416 372h4v1h-4zM418 371h3v1h-3zM419 370h2v1h-2zM420 369h2v1h-2zM421 367h2v2h-2zM422 366h2v1h-2zM423 364h2v2h-2zM424 363h2v1h-2zM425 361h2v2h-2zM426 360h10v1h-10zM427 359h9v1h-9zM435 355h2v4h-2zM436 351h2v4h-2zM437 347h2v4h-2zM438 344h2v3h-2zM439 340h2v4h-2zM440 336h2v4h-2zM441 332h2v4h-2zM442 331h2v1h-2zM442 330h8v1h-8zM443 329h11v1h-11zM450 328h3v1h-3zM452 330h3v1h-3zM453 331h3v1h-3zM454 332h2v1h-2zM454 333h3v1h-3zM455 334h3v1h-3zM456 335h3v1h-3zM457 336h3v1h-3zM458 337h2v1h-2zM458 338h3v1h-3zM459 339h3v1h-3zM460 340h3v1h-3zM461 341h2v1h-2zM461 342h3v1h-3zM462 343h3v1h-3zM463 344h3v1h-3zM464 345h2v1h-2zM464 346h3v1h-3zM465 347h3v1h-3zM466 348h3v1h-3zM467 349h2v1h-2zM467 350h3v1h-3zM468 351h3v1h-3zM469 352h3v1h-3zM470 353h2v1h-2zM470 354h3v1h-3zM471 355h3v1h-3zM472 356h3v1h-3zM473 357h2v1h-2zM473 358h3v1h-3zM474 359h2v2h-2zM475 361h2v2h-2zM476 363h2v3h-2zM477 366h2v3h-2zM478 369h2v2h-2zM479 371h2v3h-2zM480 374h2v3h-2zM481 377h2v2h-2zM482 379h2v1h-2zM482 380h4v1h-4zM484 381h4v1h-4zM486 382h4v1h-4zM488 383h7v1h-7zM490 384h4v1h-4zM494 382h3v1h-3zM495 381h3v1h-3zM497 380h7v1h-7zM498 379h4v1h-4zM502 381h4v1h-4zM504 382h3v1h-3zM506 383h3v1h-3zM507 384h3v1h-3zM509 385h3v1h-3zM510 386h4v1h-4zM512 387h20v1h-20zM514 388h5v1h-5zM519 386h10v1h-10zM529 388h5v1h-5zM532 389h4v1h-4zM534 390h4v1h-4zM536 391h4v1h-4zM538 392h2v1h-2zM539 393h2v2h-2zM540 395h2v2h-2zM541 397h2v2h-2zM542 399h2v2h-2zM543 401h2v2h-2zM544 403h2v2h-2zM545 405h2v1h-2zM545 406h4v1h-4zM547 407h3v1h-3zM549 408h3v1h-3zM550 409h3v1h-3zM552 410h3v1h-3zM553 411h5v1h-5zM555 412h9v1h-9zM558 413h6v1h-6z" fill="#7fff00"/></g>
<g fill="#000" shape-rendering="crispEdges">
<rect x="2" y="2" width="613" height="1"/>
<rect x="2" y="2" width="1" height="319"/>
<rect x="2" y="320" width="613" height="1"/>
<rect x="2" y="322" width="613" height="1"/>
<rect x="2" y="322" width="1" height="107"/>
<rect x="2" y="428" width="613" height="1"/>
<rect x="614" y="2" width="1" height="319"/>
<rect x="614" y="322" width="1" height="107"/>
<rect x="615" y="20" width="2" height="1"/>
<rect x="615" y="53" width="2" height="1"/>
<rect x="615" y="86" width="2" height="1"/>
<rect x="615" y="119" width="2" height="1"/>
<rect x="615" y="152" width="2" height="1"/>
<rect x="615" y="185" width="2" height="1"/>
<rect x="615" y="218" width="2" height="1"/>
<rect x="615" y="251" width="2" height="1"/>
<rect x="615" y="284" width="2" height="1"/>
<rect x="615" y="317" width="2" height="1"/>
<rect x="615" y="380" width="2" height="1"/>
<rect x="615" y="324" width="2" height="1"/>
<rect x="615" y="428" width="2" height="1"/>
<rect x="3" y="429" width="1" height="4"/>
<rect x="67" y="429" width="1" height="4"/>
<rect x="131" y="429" width="1" height="4"/>
<rect x="195" y="429" width="1" height="4"/>
<rect x="259" y="429" width="1" height="4"/>
<rect x="323" y="429" width="1" height="4"/>
<rect x="387" y="429" width="1" height="4"/>
<rect x="451" y="429" width="1" height="4"/>
<rect x="515" y="429" width="1" height="4"/>
<rect x="35" y="429" width="1" height="1" fill="#778899"/>
<rect x="67" y="429" width="1" height="1" fill="#778899"/>
<rect x="99" y="429" width="1" height="1" fill="#778899"/>
<rect x="131" y="429" width="1" height="1" fill="#778899"/>
<rect x="163" y="429" width="1" height="1" fill="#778899"/>
<rect x="195" y="429" width="1" height="1" fill="#778899"/>
<rect x="227" y="429" width="1" height="1" fill="#778899"/>
<rect x="259" y="429" width="1" height="1" fill="#778899"/>
<rect x="291" y="429" width="1" height="1" fill="#778899"/>
<rect x="323" y="429" width="1" height="1" fill="#778899"/>
<rect x="355" y="429" width="1" height="1" fill="#778899"/>
<rect x="387" y="429" width="1" height="1" fill="#778899"/>
<rect x="419" y="429" width="1" height="1" fill="#778899"/>
<rect x="451" y="429" width="1" height="1" fill="#778899"/>
<rect x="483" y="429" width="1" height="1" fill="#778899"/>
<rect x="515" y="429" width="1" height="1" fill="#778899"/>
<rect x="547" y="429" width="1" height="1" fill="#778899"/>
<rect x="579" y="429" width="1" height="1" fill="#778899"/>
<rect x="611" y="429" width="1" height="1" fill="#778899"/>
</g>
<path d="M5.5 9h8l-4 4.2z" fill="#000"/>
<text x="18.5" y="14" textLength="55.5" lengthAdjust="spacingAndGlyphs" fill="#000" stroke="#000" xml:space="preserve">AUDUSD,H4</text>
<text x="80" y="14" textLength="33.5" lengthAdjust="spacingAndGlyphs" fill="#000" stroke="#000" xml:space="preserve">0.70078</text>
<text x="116.3" y="14" textLength="32.5" lengthAdjust="spacingAndGlyphs" fill="#000" stroke="#000" xml:space="preserve">0.70091</text>
<text x="152" y="14" textLength="32.5" lengthAdjust="spacingAndGlyphs" fill="#000" stroke="#000" xml:space="preserve">0.69965</text>
<text x="188" y="14" textLength="32.5" lengthAdjust="spacingAndGlyphs" fill="#000" stroke="#000" xml:space="preserve">0.70020</text>
<text x="620.1" y="24" textLength="33" lengthAdjust="spacingAndGlyphs" fill="#000" stroke="#000" xml:space="preserve">0.74360</text>
<text x="620.1" y="57" textLength="33" lengthAdjust="spacingAndGlyphs" fill="#000" stroke="#000" xml:space="preserve">0.73860</text>
<text x="620.1" y="90" textLength="33" lengthAdjust="spacingAndGlyphs" fill="#000" stroke="#000" xml:space="preserve">0.73360</text>
<text x="620.1" y="123" textLength="33" lengthAdjust="spacingAndGlyphs" fill="#000" stroke="#000" xml:space="preserve">0.72870</text>
<text x="620.1" y="156" textLength="33" lengthAdjust="spacingAndGlyphs" fill="#000" stroke="#000" xml:space="preserve">0.72370</text>
<text x="620.1" y="189" textLength="33" lengthAdjust="spacingAndGlyphs" fill="#000" stroke="#000" xml:space="preserve">0.71870</text>
<text x="620.1" y="222" textLength="33" lengthAdjust="spacingAndGlyphs" fill="#000" stroke="#000" xml:space="preserve">0.71380</text>
<text x="620.1" y="255" textLength="33" lengthAdjust="spacingAndGlyphs" fill="#000" stroke="#000" xml:space="preserve">0.70880</text>
<text x="620.1" y="288" textLength="33" lengthAdjust="spacingAndGlyphs" fill="#000" stroke="#000" xml:space="preserve">0.70380</text>
<text x="620.1" y="321" textLength="33" lengthAdjust="spacingAndGlyphs" fill="#000" stroke="#000" xml:space="preserve">0.69890</text>
<rect x="616" y="303" width="41" height="11" fill="#000" shape-rendering="crispEdges"/>
<text x="620.1" y="312" textLength="33" lengthAdjust="spacingAndGlyphs" fill="#fff" stroke="#fff" xml:space="preserve">0.70020</text>
<text x="618.3" y="333" textLength="37.4" lengthAdjust="spacingAndGlyphs" fill="#000" stroke="#000" xml:space="preserve">299.7818</text>
<rect x="616" y="337" width="17" height="11" fill="#4682b4" shape-rendering="crispEdges"/>
<text x="617.5" y="346" textLength="14.8" lengthAdjust="spacingAndGlyphs" fill="#fff" stroke="#fff" xml:space="preserve">200</text>
<rect x="616" y="356" width="17" height="11" fill="#4682b4" shape-rendering="crispEdges"/>
<text x="617.5" y="365" textLength="14.8" lengthAdjust="spacingAndGlyphs" fill="#fff" stroke="#fff" xml:space="preserve">100</text>
<rect x="616" y="393" width="20" height="11" fill="#4682b4" shape-rendering="crispEdges"/>
<text x="617" y="402" textLength="18.2" lengthAdjust="spacingAndGlyphs" fill="#fff" stroke="#fff" xml:space="preserve">-100</text>
<rect x="616" y="412" width="20" height="11" fill="#4682b4" shape-rendering="crispEdges"/>
<text x="617" y="421" textLength="18.2" lengthAdjust="spacingAndGlyphs" fill="#fff" stroke="#fff" xml:space="preserve">-200</text>
<text x="618.2" y="384" textLength="17.8" lengthAdjust="spacingAndGlyphs" fill="#000" stroke="#000" xml:space="preserve">0.00</text>
<text x="618.2" y="426" textLength="35.5" lengthAdjust="spacingAndGlyphs" fill="#000" stroke="#000" xml:space="preserve">-280.089</text>
<text x="7.6" y="335" textLength="78" lengthAdjust="spacingAndGlyphs" fill="#000" stroke="#000" xml:space="preserve">CCI(27) -175.8652</text>
<text x="2.4" y="442" textLength="50.6" lengthAdjust="spacingAndGlyphs" fill="#000" stroke="#000" xml:space="preserve">21 Apr 2022</text>
<text x="66.4" y="442" textLength="54" lengthAdjust="spacingAndGlyphs" fill="#000" stroke="#000" xml:space="preserve">25 Apr 00:00</text>
<text x="130.4" y="442" textLength="54" lengthAdjust="spacingAndGlyphs" fill="#000" stroke="#000" xml:space="preserve">26 Apr 08:00</text>
<text x="194.4" y="442" textLength="54" lengthAdjust="spacingAndGlyphs" fill="#000" stroke="#000" xml:space="preserve">27 Apr 16:00</text>
<text x="258.4" y="442" textLength="54" lengthAdjust="spacingAndGlyphs" fill="#000" stroke="#000" xml:space="preserve">29 Apr 00:00</text>
<text x="322.4" y="442" textLength="53" lengthAdjust="spacingAndGlyphs" fill="#000" stroke="#000" xml:space="preserve">2 May 08:00</text>
<text x="386.4" y="442" textLength="53" lengthAdjust="spacingAndGlyphs" fill="#000" stroke="#000" xml:space="preserve">3 May 16:00</text>
<text x="450.4" y="442" textLength="53" lengthAdjust="spacingAndGlyphs" fill="#000" stroke="#000" xml:space="preserve">5 May 00:00</text>
<text x="514.4" y="442" textLength="53" lengthAdjust="spacingAndGlyphs" fill="#000" stroke="#000" xml:space="preserve">6 May 08:00</text>
</svg></body></html>
